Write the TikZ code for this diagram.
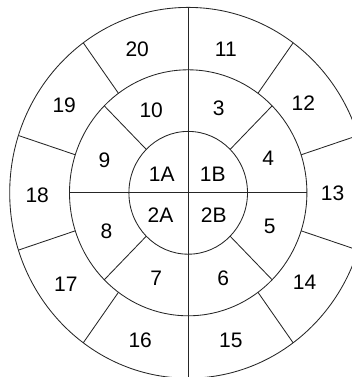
\documentclass[tikz,border=0pt]{standalone}
\usepackage{fontspec}
\setmainfont{Liberation Sans}
\begin{document}
\begin{tikzpicture}[x=1pt,y=-1pt,
  ring/.style={line width=0.85pt, draw=black!85},
  lbl/.style={font=\fontsize{21}{25}\selectfont, inner sep=0pt, anchor=center}]
\useasboundingbox (0,0) rectangle (352,377);
\coordinate (C) at (188.2,192.8);
\def\cx{188.2}\def\cy{192.8}
% rings (x radius, y radius)
\def\rxa{59.3}\def\rya{61.4}
\def\rxb{118.7}\def\ryb{123}
\def\rxc{178.5}\def\ryc{185.4}
\draw[ring] (C) ellipse [x radius=\rxa pt, y radius=\rya pt];
\draw[ring] (C) ellipse [x radius=\rxb pt, y radius=\ryb pt];
\draw[ring] (C) ellipse [x radius=\rxc pt, y radius=\ryc pt];
% vertical full line
\draw[ring] ({\cx},{\cy-\ryc}) -- ({\cx},{\cy+\ryc});
% horizontal line through inner and middle circles
\draw[ring] ({\cx-\rxb},{\cy}) -- ({\cx+\rxb},{\cy});
% middle ring dividers
\foreach \a in {45,135,225,315}
  \draw[ring] ({\cx+\rxa*cos(\a)},{\cy-\rya*sin(\a)}) -- ({\cx+\rxb*cos(\a)},{\cy-\ryb*sin(\a)});
% outer ring dividers
\foreach \a in {18,54,126,162,198,234,306,342}
  \draw[ring] ({\cx+\rxb*cos(\a)},{\cy-\ryb*sin(\a)}) -- ({\cx+\rxc*cos(\a)},{\cy-\ryc*sin(\a)});
% labels
\node[lbl] (l1A) at (161.7,173.8) {1A};
\node[lbl] (l1B) at (212.8,173.8) {1B};
\node[lbl] (l2A) at (160.5,215.3) {2A};
\node[lbl] (l2B) at (213.7,215.3) {2B};
\node[lbl] (l3) at (218.8,107.8) {3};
\node[lbl] (l4) at (268.2,158.5) {4};
\node[lbl] (l5) at (269.8,226.7) {5};
\node[lbl] (l6) at (223.3,278) {6};
\node[lbl] (l7) at (156.3,278.5) {7};
\node[lbl] (l8) at (106.5,231) {8};
\node[lbl] (l9) at (104.5,160.5) {9};
\node[lbl] (l10) at (151.2,110) {10};
\node[lbl] (l11) at (225.8,48.8) {11};
\node[lbl] (l12) at (303.3,103.3) {12};
\node[lbl] (l13) at (332.5,193) {13};
\node[lbl] (l14) at (304.5,282.5) {14};
\node[lbl] (l15) at (230.8,340) {15};
\node[lbl] (l16) at (140.2,340) {16};
\node[lbl] (l17) at (65.8,284.5) {17};
\node[lbl] (l18) at (37.2,195.3) {18};
\node[lbl] (l19) at (64.2,105) {19};
\node[lbl] (l20) at (137.2,48.8) {20};
\end{tikzpicture}
\end{document}
